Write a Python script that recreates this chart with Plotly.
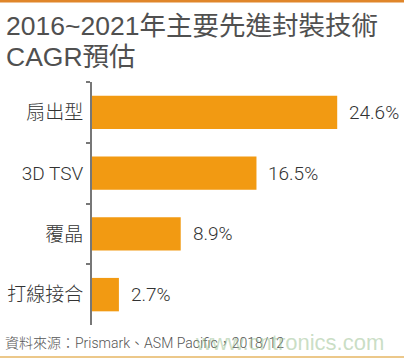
import plotly.graph_objects as go

categories = ["扇出型", "3D TSV", "覆晶", "打線接合"]
values = [24.6, 16.5, 8.9, 2.7]
value_labels = ["24.6%", "16.5%", "8.9%", "2.7%"]
title_lines = ["2016~2021年主要先進封裝技術", "CAGR預估"]
source_text = "資料來源：Prismark、ASM Pacific，2018/12"
watermark = "www.cntronics.com"

FONT = "Liberation Sans, Noto Sans CJK TC, sans-serif"
LIGHT = "Roboto, Noto Sans CJK TC, sans-serif"
BAR = "#f29a12"
L, T, B, W, H = 92, 82, 37, 404, 362
PW, PH = W - L, H - T - B

def px(x):
    return (x - L) / PW

def py(y):
    return (H - B - y) / PH

fig = go.Figure(go.Bar(
    x=values, y=categories, orientation="h",
    marker=dict(color=BAR, line=dict(width=0)),
    hoverinfo="skip",
))

for v, c, t in zip(values, categories, value_labels):
    fig.add_annotation(x=v, y=c, text=t, showarrow=False, xanchor="left",
                       xshift=10, font=dict(size=19, color="#333333", family=LIGHT, weight=300))

fig.add_annotation(xref="paper", yref="paper", x=px(4), y=py(26),
                   text=title_lines[0], showarrow=False, xanchor="left", yanchor="middle",
                   font=dict(size=26.5, color="#505050", family=FONT))
fig.add_annotation(xref="paper", yref="paper", x=px(4), y=py(57),
                   text=title_lines[1], showarrow=False, xanchor="left", yanchor="middle",
                   font=dict(size=26.5, color="#505050", family=FONT))
fig.add_annotation(xref="paper", yref="paper", x=px(3), y=py(343),
                   text=source_text, showarrow=False, xanchor="left", yanchor="middle",
                   font=dict(size=14, color="#555555", family=LIGHT, weight=300))
fig.add_annotation(xref="paper", yref="paper", x=px(386), y=py(342),
                   text=watermark, showarrow=False, xanchor="right", yanchor="middle",
                   font=dict(size=22, color="rgba(150,190,140,0.5)", family="Liberation Sans, sans-serif"))

fig.add_shape(type="line", xref="paper", yref="paper", x0=px(0), x1=1,
              y0=py(1), y1=py(1), line=dict(color="#e0862a", width=3))
fig.add_shape(type="line", xref="paper", yref="paper", x0=px(0), x1=1,
              y0=py(357), y1=py(357), line=dict(color="#ecc88a", width=2))

fig.update_layout(
    width=W, height=H,
    margin=dict(l=L, r=0, t=T, b=B, autoexpand=False),
    paper_bgcolor="white", plot_bgcolor="white",
    showlegend=False, bargap=0.45,
    font=dict(family=FONT),
    xaxis=dict(range=[0, 31.3], visible=False, fixedrange=True, automargin=False),
    yaxis=dict(autorange="reversed", showline=True, linecolor="#777777", linewidth=2,
               ticks="outside", tickson="boundaries", ticklen=4, tickcolor="#777777",
               tickwidth=2, ticklabelstandoff=3, showgrid=False, automargin=False,
               tickfont=dict(size=19, color="#333333", family=LIGHT, weight=300),
               fixedrange=True),
)

fig.write_html("out.html", config={"displayModeBar": False},
               post_script="document.body.style.margin='0';document.body.style.overflow='hidden';")
